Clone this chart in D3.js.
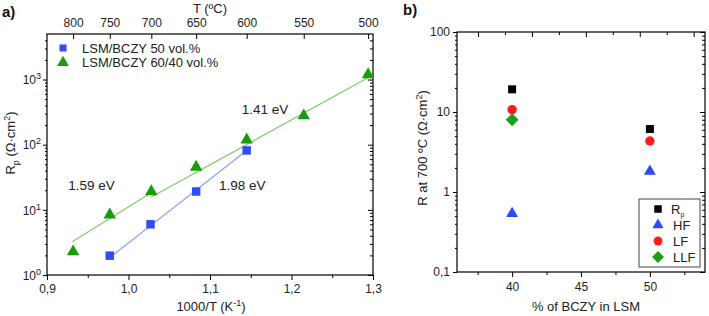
<!DOCTYPE html>
<html>
<head>
<meta charset="utf-8">
<script src="https://cdn.jsdelivr.net/npm/d3@7"></script>
<style>
  body { margin: 0; background: #fff; }
  svg { font-family: Arial, "Liberation Sans", sans-serif; }
</style>
</head>
<body>
<div id="chart"></div>
<script>
// ---- panel a) data ----
const tempsC = [800, 750, 700, 650, 600, 550, 500];
const invT = [0.932, 0.977, 1.028, 1.083, 1.145, 1.215, 1.294];
const rp6040 = [2.28, 8.4, 19.1, 45.4, 119, 279, 1194];
const invT50 = [0.977, 1.027, 1.083, 1.145];
const rp50 = [1.98, 6.0, 19.1, 81.7];
const fit6040Low = [[0.931, 3.25], [1.026, 17.6]];
const fit6040High = [[1.028, 15.7], [1.296, 1100]];
const fit50 = [[0.976, 1.81], [1.145, 81.7]];
const energies = [
  { label: "1.59 eV", x: 0.926, y: 20 },
  { label: "1.98 eV", x: 1.111, y: 20 },
  { label: "1.41 eV", x: 1.139, y: 300 },
];

// ---- panel b) data ----
const bczy = [40, 50];
const rTotal = [19.2, 6.13];
const rHF = [0.537, 1.81];
const rLF = [10.7, 4.34];
const rLLF = [8.0, null];

const width = 709;
const height = 316;
const blue = "#2f4cf5";
const green = "#1a9c0a";

const svg = d3
  .select("#chart")
  .append("svg")
  .attr("width", width)
  .attr("height", height)
  .attr("viewBox", [0, 0, width, height]);

const fmtComma = (d) => String(d).replace(".", ",");

function supLabel(sel, base, exp) {
  sel.text(base);
  sel.append("tspan").attr("dy", -5).attr("font-size", 9).text(exp);
}

// ================= panel a =================
const top1 = 34;
const x = d3.scaleLinear().domain([0.9, 1.3]).range([47, 373]);
const y = d3.scaleLog().domain([1, 5000]).range([275, top1]);

const decades = [1, 10, 100, 1000];
const minorLog = [];
decades.forEach((d) => {
  for (let k = 2; k <= 9; k++) if (d * k < 5000) minorLog.push(d * k);
});

// frame
svg.append("rect")
  .attr("x", 47).attr("y", top1)
  .attr("width", 373 - 47).attr("height", 275 - top1)
  .attr("fill", "none").attr("stroke", "#000").attr("stroke-width", 1.2);

// bottom axis
svg.append("g")
  .attr("transform", "translate(0,275)")
  .call(d3.axisBottom(x).tickValues([0.9, 1.0, 1.1, 1.2, 1.3])
    .tickFormat((d) => fmtComma(d.toFixed(1))).tickSize(5).tickPadding(4))
  .call((g) => g.select(".domain").remove())
  .call((g) => g.selectAll("text").attr("font-size", 12).attr("fill", "#222"));
svg.append("g")
  .attr("transform", "translate(0,275)")
  .call(d3.axisBottom(x).tickValues([0.95, 1.05, 1.15, 1.25]).tickFormat("").tickSize(3))
  .call((g) => g.select(".domain").remove());

// top axis (temperature), ticks pointing inward
svg.append("g")
  .attr("transform", `translate(0,${top1})`)
  .call(d3.axisTop(x).tickValues(invT).tickFormat((d, i) => tempsC[i]).tickSize(-5).tickPadding(7))
  .call((g) => g.select(".domain").remove())
  .call((g) => g.selectAll("text").attr("font-size", 12).attr("fill", "#222"));

// left axis
svg.append("g")
  .attr("transform", "translate(47,0)")
  .call(d3.axisLeft(y).tickValues(decades).tickFormat("").tickSize(4))
  .call((g) => g.select(".domain").remove())
  .call((g) => g.selectAll(".tick").append("text")
    .attr("x", -6).attr("dy", "0.35em").attr("text-anchor", "end")
    .attr("font-size", 12).attr("fill", "#222")
    .each(function (d) { supLabel(d3.select(this), "10", Math.round(Math.log10(d))); }));
svg.append("g")
  .attr("transform", "translate(47,0)")
  .call(d3.axisLeft(y).tickValues(minorLog).tickFormat("").tickSize(2))
  .call((g) => g.select(".domain").remove());

// right axis (inside)
svg.append("g")
  .attr("transform", "translate(373,0)")
  .call(d3.axisLeft(y).tickValues(decades).tickFormat("").tickSize(5))
  .call((g) => g.select(".domain").remove());
svg.append("g")
  .attr("transform", "translate(373,0)")
  .call(d3.axisLeft(y).tickValues(minorLog).tickFormat("").tickSize(3))
  .call((g) => g.select(".domain").remove());

// axis titles
const xt = svg.append("text")
  .attr("x", 211).attr("y", 311).attr("text-anchor", "middle")
  .attr("font-size", 13).attr("fill", "#222");
supLabel(xt, "1000/T (K", "-1");
xt.append("tspan").attr("dy", 5).text(")");

svg.append("text")
  .attr("x", 210).attr("y", 13).attr("text-anchor", "middle")
  .attr("font-size", 13).attr("fill", "#222").text("T (ºC)");

const yt = svg.append("text")
  .attr("transform", "translate(15,143) rotate(-90)")
  .attr("text-anchor", "middle").attr("font-size", 13).attr("fill", "#222");
yt.text("R");
yt.append("tspan").attr("dy", 4).attr("font-size", 9).text("p");
yt.append("tspan").attr("dy", -4).text(" (Ω·cm");
yt.append("tspan").attr("dy", -5).attr("font-size", 9).text("2");
yt.append("tspan").attr("dy", 5).text(")");

svg.append("text")
  .attr("x", 2).attr("y", 17).attr("font-size", 15).attr("font-weight", "bold")
  .attr("fill", "#111").text("a)");

// fit lines
const line = d3.line().x((d) => x(d[0])).y((d) => y(d[1]));
[fit6040Low, fit6040High].forEach((f) => {
  svg.append("path").attr("d", line(f)).attr("fill", "none")
    .attr("stroke", "#7fcc6c").attr("stroke-width", 1.2);
});
svg.append("path").attr("d", line(fit50)).attr("fill", "none")
  .attr("stroke", "#8d9cff").attr("stroke-width", 1.2);

// markers
const tri = d3.symbol().type(d3.symbolTriangle).size(68);
const sq = d3.symbol().type(d3.symbolSquare).size(72);
svg.append("g").selectAll("path")
  .data(invT.map((t, i) => [t, rp6040[i]]))
  .join("path")
  .attr("transform", (d) => `translate(${x(d[0])},${y(d[1])})`)
  .attr("d", tri).attr("fill", green);
svg.append("g").selectAll("path")
  .data(invT50.map((t, i) => [t, rp50[i]]))
  .join("path")
  .attr("transform", (d) => `translate(${x(d[0])},${y(d[1])})`)
  .attr("d", sq).attr("fill", blue);

// energy labels
svg.append("g").selectAll("text")
  .data(energies)
  .join("text")
  .attr("x", (d) => x(d.x)).attr("y", (d) => y(d.y))
  .attr("font-size", 13.5).attr("fill", "#222")
  .text((d) => d.label);

// legend a
const legA = [
  { label: "LSM/BCZY 50 vol.%", type: d3.symbolSquare, size: 50, color: blue },
  { label: "LSM/BCZY 60/40 vol.%", type: d3.symbolTriangle, size: 60, color: green },
];
const la = svg.append("g").selectAll("g").data(legA).join("g")
  .attr("transform", (d, i) => `translate(63,${48 + i * 14.5})`);
la.append("path").attr("d", (d) => d3.symbol().type(d.type).size(d.size)()).attr("fill", (d) => d.color);
la.append("text").attr("x", 19).attr("dy", "0.36em")
  .attr("font-size", 13).attr("fill", "#222").text((d) => d.label);

// ================= panel b =================
const x2 = d3.scaleLinear().domain([36, 54]).range([457, 705]);
const y2 = d3.scaleLog().domain([0.1, 100]).range([272, 32]);
const dec2 = [0.1, 1, 10, 100];
const minor2 = [];
[0.1, 1, 10].forEach((d) => { for (let k = 2; k <= 9; k++) minor2.push(d * k); });

svg.append("rect")
  .attr("x", 457).attr("y", 32)
  .attr("width", 705 - 457).attr("height", 272 - 32)
  .attr("fill", "none").attr("stroke", "#000").attr("stroke-width", 1.2);

svg.append("g")
  .attr("transform", "translate(0,272)")
  .call(d3.axisBottom(x2).tickValues([40, 45, 50]).tickSize(5).tickPadding(5))
  .call((g) => g.select(".domain").remove())
  .call((g) => g.selectAll("text").attr("font-size", 12).attr("fill", "#222"));
svg.append("g")
  .attr("transform", "translate(0,272)")
  .call(d3.axisBottom(x2).tickValues([37.5, 42.5, 47.5, 52.5]).tickFormat("").tickSize(3))
  .call((g) => g.select(".domain").remove());

// top mirror ticks (unlabelled)
const x2top = d3.scaleLinear().domain([-3.9, 42.1]).range([457, 705]);
svg.append("g")
  .attr("transform", "translate(0,32)")
  .call(d3.axisBottom(x2top).tickValues([0, 10, 20, 30, 40]).tickFormat("").tickSize(5))
  .call((g) => g.select(".domain").remove());
svg.append("g")
  .attr("transform", "translate(0,32)")
  .call(d3.axisBottom(x2top).tickValues([5, 15, 25, 35]).tickFormat("").tickSize(3))
  .call((g) => g.select(".domain").remove());

svg.append("g")
  .attr("transform", "translate(457,0)")
  .call(d3.axisLeft(y2).tickValues(dec2).tickFormat((d) => fmtComma(d)).tickSize(4).tickPadding(3))
  .call((g) => g.select(".domain").remove())
  .call((g) => g.selectAll("text").attr("font-size", 12).attr("fill", "#222"));
svg.append("g")
  .attr("transform", "translate(457,0)")
  .call(d3.axisLeft(y2).tickValues(minor2).tickFormat("").tickSize(2))
  .call((g) => g.select(".domain").remove());
svg.append("g")
  .attr("transform", "translate(705,0)")
  .call(d3.axisLeft(y2).tickValues(dec2).tickFormat("").tickSize(5))
  .call((g) => g.select(".domain").remove());
svg.append("g")
  .attr("transform", "translate(705,0)")
  .call(d3.axisLeft(y2).tickValues(minor2).tickFormat("").tickSize(3))
  .call((g) => g.select(".domain").remove());

svg.append("text")
  .attr("x", 586).attr("y", 311).attr("text-anchor", "middle")
  .attr("font-size", 13).attr("fill", "#222").text("% of BCZY in LSM");

const yt2 = svg.append("text")
  .attr("transform", "translate(427,148) rotate(-90)")
  .attr("text-anchor", "middle").attr("font-size", 13).attr("fill", "#222");
yt2.text("R at 700 ºC (Ω·cm");
yt2.append("tspan").attr("dy", -5).attr("font-size", 9).text("2");
yt2.append("tspan").attr("dy", 5).text(")");

svg.append("text")
  .attr("x", 403).attr("y", 15).attr("font-size", 15).attr("font-weight", "bold")
  .attr("fill", "#111").text("b)");

const diamond = d3.symbolDiamond2 || d3.symbolDiamond;
const seriesB = [
  { name: "Rp", vals: rTotal, type: d3.symbolSquare, size: 64, color: "#000" },
  { name: "HF", vals: rHF, type: d3.symbolTriangle, size: 62, color: "#2e48ff" },
  { name: "LF", vals: rLF, type: d3.symbolCircle, size: 70, color: "#ff1c1c" },
  { name: "LLF", vals: rLLF, type: diamond, size: 105, color: "#1d9e17" },
];
seriesB.forEach((s) => {
  svg.append("g").selectAll("path")
    .data(bczy.map((b, i) => [b, s.vals[i]]).filter((d) => d[1] != null))
    .join("path")
    .attr("transform", (d) => `translate(${x2(d[0])},${y2(d[1])})`)
    .attr("d", d3.symbol().type(s.type).size(s.size)())
    .attr("fill", s.color);
});

// legend b
const lb = svg.append("g").attr("transform", "translate(639,199)");
lb.append("rect").attr("width", 61).attr("height", 68)
  .attr("fill", "#fff").attr("stroke", "#444").attr("stroke-width", 1);
const lbItems = lb.selectAll("g.item").data(seriesB).join("g")
  .attr("transform", (d, i) => `translate(19,${10 + i * 16})`);
lbItems.append("path")
  .attr("d", (d) => d3.symbol().type(d.type).size(d.size * 0.88)())
  .attr("fill", (d) => d.color);
lbItems.append("text")
  .attr("x", (d, i) => (i === 0 ? 13 : 15)).attr("dy", "0.36em")
  .attr("font-size", 13).attr("fill", "#222")
  .each(function (d) {
    const t = d3.select(this);
    if (d.name === "Rp") {
      t.text("R");
      t.append("tspan").attr("dy", 3).attr("font-size", 7).text("p");
    } else {
      t.text(d.name);
    }
  });
</script>
</body>
</html>
